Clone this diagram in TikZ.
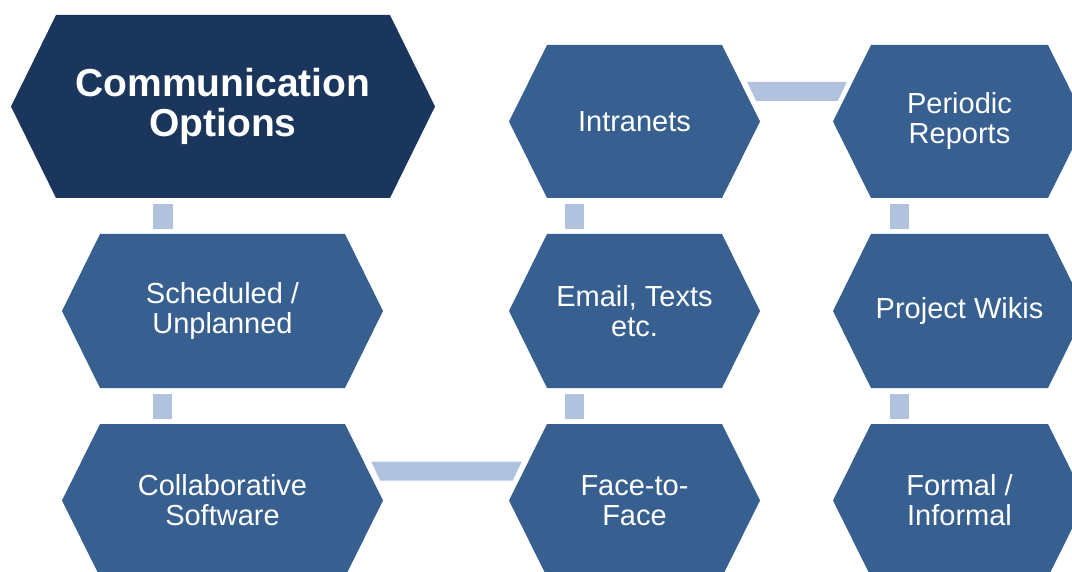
\documentclass[tikz,border=0pt]{standalone}
\usepackage{fontspec}
\setmainfont{Liberation Sans}

\definecolor{hexdark}{HTML}{1A365D}
\definecolor{hexmid}{HTML}{376091}
\definecolor{linkblue}{HTML}{B0C2DD}

\def\hexinset{38pt}
\def\hexcolor{hexmid}
\tikzset{
    hex inset/.store in=\hexinset,
    hex color/.store in=\hexcolor,
    hexbox/.style={minimum width=251pt, minimum height=153pt, inner sep=0pt,
        text=white, align=center, font=\fontsize{29pt}{30pt}\selectfont,
        path picture={\fill [\hexcolor]
            ([xshift=\hexinset]path picture bounding box.north west)
            -- ([xshift=-\hexinset]path picture bounding box.north east)
            -- (path picture bounding box.east)
            -- ([xshift=-\hexinset]path picture bounding box.south east)
            -- ([xshift=\hexinset]path picture bounding box.south west)
            -- (path picture bounding box.west) -- cycle;}},
    link/.style={fill=linkblue}
}

\begin{document}
\begin{tikzpicture}[x=1pt, y=-1pt]
            \useasboundingbox (0, 0) rectangle (1072, 572);

            \node [hexbox, hex inset=45pt, hex color=hexdark, minimum width=424pt, minimum height=183pt,
                font=\bfseries\fontsize{39pt}{40pt}\selectfont] (comm) at (223, 106.5) {Communication\\Options};
            \node [hexbox, minimum width=321pt, minimum height=154pt] (sched) at (222.5, 311) {Scheduled /\\Unplanned};
            \node [hexbox, minimum width=321pt, minimum height=153pt] (coll) at (222.5, 500.5) {Collaborative\\Software};

            \node [hexbox] (intr) at (634.5, 121.5) {Intranets};
            \node [hexbox, minimum height=154pt] (email) at (634.5, 311) {Email, Texts\\etc.};
            \node [hexbox] (face) at (634.5, 500.5) {Face-to-\\Face};

            \node [hexbox, minimum width=253pt] (peri) at (959.5, 121.5) {Periodic\\Reports};
            \node [hexbox, minimum width=253pt, minimum height=154pt] (wiki) at (959.5, 311) {Project Wikis};
            \node [hexbox, minimum width=253pt] (form) at (959.5, 500.5) {Formal /\\Informal};

            \fill [link] ([xshift=-69.5pt, yshift=5pt]sched.north) rectangle ([xshift=-50.5pt, yshift=-6pt]comm.south);
            \fill [link] ([xshift=-69.5pt, yshift=5pt]coll.north) rectangle ([xshift=-50.5pt, yshift=-6pt]sched.south);
            \fill [link] ([xshift=-69.5pt, yshift=5pt]email.north) rectangle ([xshift=-50.5pt, yshift=-6pt]intr.south);
            \fill [link] ([xshift=-69.5pt, yshift=5pt]face.north) rectangle ([xshift=-50.5pt, yshift=-6pt]email.south);
            \fill [link] ([xshift=-69.5pt, yshift=5pt]wiki.north) rectangle ([xshift=-50.5pt, yshift=-6pt]peri.south);
            \fill [link] ([xshift=-69.5pt, yshift=5pt]form.north) rectangle ([xshift=-50.5pt, yshift=-6pt]wiki.south);

            \fill [link] ([xshift=-13pt, yshift=39.5pt]intr.east) -- ([xshift=-4pt, yshift=20.5pt]intr.east)
                to ([xshift=5pt, yshift=20.5pt]peri.west) -- ([xshift=14pt, yshift=39.5pt]peri.west) -- cycle;
            \fill [link] ([xshift=-12pt, yshift=39pt]coll.east) -- ([xshift=-3pt, yshift=20pt]coll.east)
                to ([xshift=4pt, yshift=20pt]face.west) -- ([xshift=13pt, yshift=39pt]face.west) -- cycle;
\end{tikzpicture}
\end{document}
